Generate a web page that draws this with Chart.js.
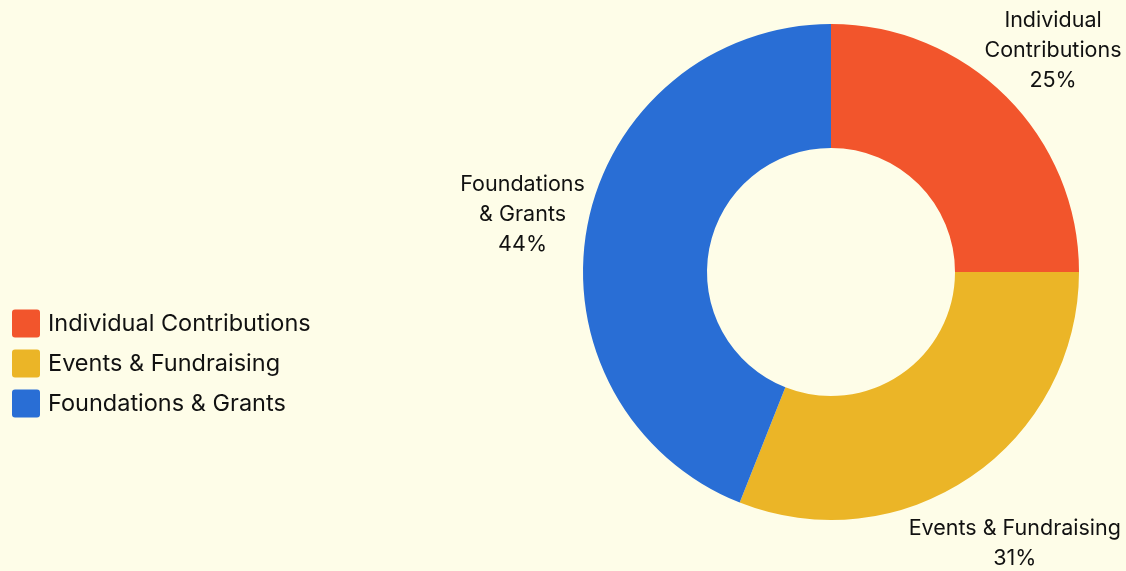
<!DOCTYPE html>
<html>
<head>
<meta charset="utf-8">
<script src="https://cdn.jsdelivr.net/npm/chart.js@4/dist/chart.umd.min.js"></script>
<style>
  html, body { margin: 0; padding: 0; background: #FEFDE8; }
  #wrap { width: 1126px; height: 571px; position: relative; }
</style>
</head>
<body>
<div id="wrap"><canvas id="c"></canvas></div>
<script>
const categories = ["Individual Contributions", "Events & Fundraising", "Foundations & Grants"];
const labelLines = [["Individual", "Contributions"], ["Events & Fundraising"], ["Foundations", "& Grants"]];
const values = [25, 31, 44];
const colors = ["#F2552C", "#EBB527", "#296ED5"];

const FONT = "Inter, 'Noto Sans', sans-serif";

const outerLabels = {
  id: "outerLabels",
  afterDatasetsDraw(chart) {
    const ctx = chart.ctx;
    const meta = chart.getDatasetMeta(0);
    const total = values.reduce((a, b) => a + b, 0);
    ctx.save();
    ctx.font = "21.5px " + FONT;
    ctx.fillStyle = "#111111";
    ctx.textAlign = "center";
    ctx.textBaseline = "middle";
    meta.data.forEach((arc, i) => {
      const p = arc.getProps(["x", "y", "startAngle", "endAngle", "outerRadius"], true);
      const mid = (p.startAngle + p.endAngle) / 2;
      const lines = labelLines[i].concat([Math.round(values[i] / total * 100) + "%"]);
      const d = p.outerRadius + 66 + (3 - lines.length) * 13;
      const cx = p.x + Math.cos(mid) * d;
      const cy = p.y + Math.sin(mid) * d;
      const lh = 30;
      const top = cy - (lines.length - 1) * lh / 2;
      lines.forEach((t, k) => ctx.fillText(t, cx, top + k * lh + 1));
    });
    ctx.restore();
  }
};

const sideLegend = {
  id: "sideLegend",
  afterDraw(chart) {
    const ctx = chart.ctx;
    const ds = chart.data.datasets[0];
    const gap = 40, box = 28;
    const startY = 323.5;
    ctx.save();
    ctx.font = "23.5px " + FONT;
    ctx.textBaseline = "middle";
    ctx.textAlign = "left";
    chart.data.labels.forEach((lab, i) => {
      const y = startY + i * gap;
      ctx.fillStyle = ds.backgroundColor[i];
      ctx.beginPath();
      ctx.roundRect(12, y - box / 2, box, box, 3);
      ctx.fill();
      ctx.fillStyle = "#111111";
      ctx.fillText(lab, 48, y);
    });
    ctx.restore();
  }
};

new Chart(document.getElementById("c"), {
  type: "doughnut",
  data: {
    labels: categories,
    datasets: [{
      data: values,
      backgroundColor: colors,
      borderWidth: 0,
      hoverOffset: 0
    }]
  },
  options: {
    responsive: true,
    maintainAspectRatio: false,
    animation: false,
    cutout: "50%",
    layout: { padding: { left: 583, right: 47, top: 24, bottom: 51 } },
    plugins: {
      legend: { display: false },
      tooltip: { enabled: false }
    }
  },
  plugins: [outerLabels, sideLegend]
});
</script>
</body>
</html>
